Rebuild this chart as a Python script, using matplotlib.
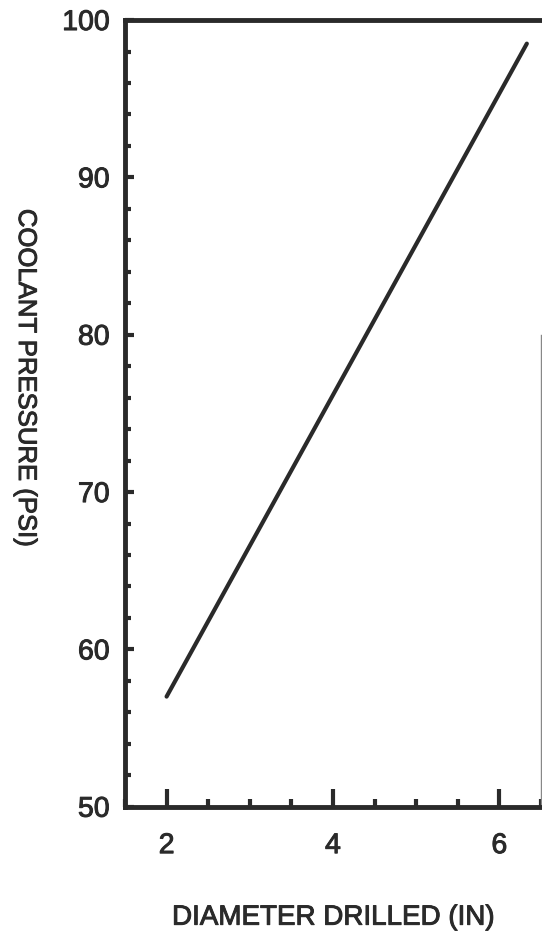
import matplotlib
matplotlib.use("Agg")
import matplotlib.pyplot as plt
import matplotlib.patheffects as pe
from matplotlib.ticker import MultipleLocator

# Coolant pressure vs. diameter drilled
diameter_in = [2.0, 6.33]
pressure_psi = [57.0, 98.5]

x_ticks = [2, 4, 6]
x_tick_labels = ["2", "4", "6"]
y_ticks = [50, 60, 70, 80, 90, 100]
y_tick_labels = ["50", "60", "70", "80", "90", "100"]

ink = "#2a2a2a"
plt.rcParams["font.family"] = ["Liberation Sans", "DejaVu Sans"]

fig = plt.figure(figsize=(5.42, 9.32), dpi=100)
ax = fig.add_axes([0.2306, 0.1344, 0.7675, 0.8441])

ax.plot(diameter_in, pressure_psi, color=ink, lw=3.0, solid_capstyle="round")

ax.set_xlim(1.5, 6.5)
ax.set_ylim(50, 100)

ax.set_xticks(x_ticks)
ax.set_xticklabels(x_tick_labels)
ax.set_yticks(y_ticks)
ax.set_yticklabels(y_tick_labels)
ax.xaxis.set_minor_locator(MultipleLocator(0.5))
ax.yaxis.set_minor_locator(MultipleLocator(2))

ax.tick_params(axis="x", which="major", direction="in", length=13, width=3,
               color=ink, labelsize=20.5, labelcolor=ink, pad=19)
ax.tick_params(axis="x", which="minor", direction="in", length=5.5, width=3,
               color=ink)
ax.tick_params(axis="y", which="major", direction="in", length=6.5, width=3,
               color=ink, labelsize=20.5, labelcolor=ink, pad=11)
ax.tick_params(axis="y", which="minor", direction="in", length=4, width=3,
               color=ink)

for side in ("left", "bottom", "top"):
    ax.spines[side].set_linewidth(3.5)
    ax.spines[side].set_color(ink)
ax.spines["right"].set_linewidth(1.0)
ax.spines["right"].set_color("#888888")
ax.spines["right"].set_bounds(50, 80)

ax.set_xlabel("DIAMETER DRILLED (IN)", fontsize=20, color=ink,
              ha="center", va="center")
ax.xaxis.set_label_coords(0.5, -0.141)
ax.set_ylabel("COOLANT PRESSURE (PSI)", fontsize=18.5, color=ink,
              rotation=-90, ha="center", va="center")
ax.yaxis.set_label_coords(-0.238, 0.545)

# Slightly heavier lettering
heavy = [pe.withStroke(linewidth=0.7, foreground=ink)]
for t in ax.get_xticklabels() + ax.get_yticklabels():
    t.set_path_effects(heavy)
ax.xaxis.label.set_path_effects(heavy)
ax.yaxis.label.set_path_effects(heavy)

fig.savefig("out.png", dpi=100)
